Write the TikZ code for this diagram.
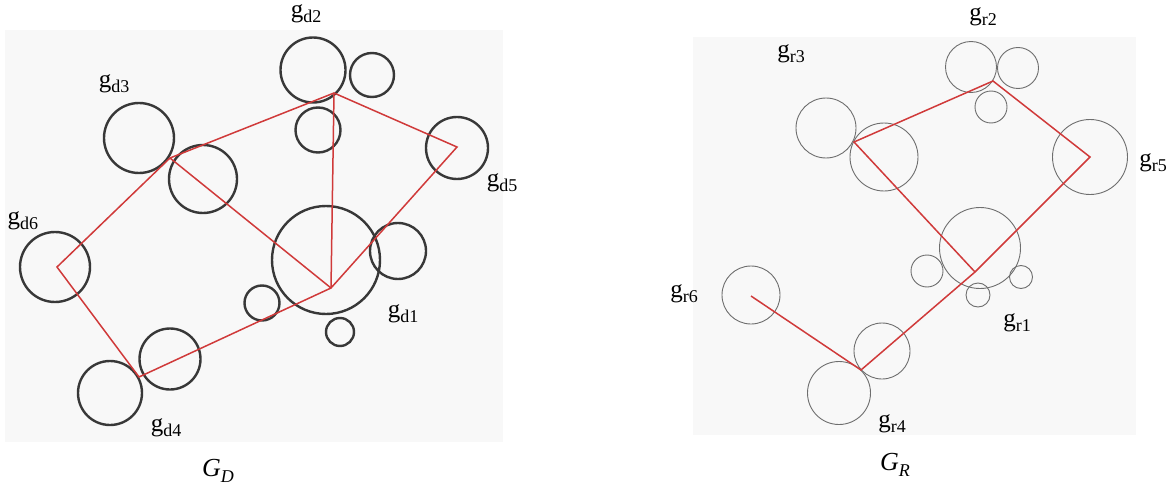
\documentclass[tikz,border=0pt]{standalone}
\usepackage{fontspec}
\setmainfont{Liberation Serif}
\definecolor{bgc}{HTML}{F8F8F8}
\definecolor{dcol}{HTML}{383838}
\definecolor{rcol}{HTML}{6E6E6E}
\definecolor{edgered}{HTML}{D03A3A}
\newcommand{\glab}[1]{g\raisebox{-0.18em}{\fontsize{18}{18}\selectfont #1}}
\newcommand{\Glab}[1]{\textit{G}\raisebox{-0.25em}{\fontsize{18}{18}\selectfont\textit{#1}}}
\begin{document}
\begin{tikzpicture}[x=1pt,y=-1pt,
  dcirc/.style={circle,draw=dcol,line width=2.4pt,inner sep=0pt},
  rcirc/.style={circle,draw=rcol,line width=0.9pt,inner sep=0pt},
  rline/.style={draw=edgered,line width=1.5pt,line join=miter},
  lab/.style={font=\fontsize{25}{25}\selectfont,inner sep=0pt},
  captxt/.style={font=\fontsize{26}{26}\selectfont,inner sep=0pt}]
\useasboundingbox (0,0) rectangle (1168,487);
\fill[white] (0,0) rectangle (1168,487);
\fill[bgc] (5,30) rectangle (503,442);
\fill[bgc] (693,37) rectangle (1136,435);
% ---- left graph G_D
\node[dcirc,minimum size=65pt] (d2a) at (313,70) {};
\node[dcirc,minimum size=44pt] (d2b) at (372,75) {};
\node[dcirc,minimum size=45pt] (d2c) at (318,130) {};
\node[dcirc,minimum size=70pt] (d3a) at (139,138) {};
\node[dcirc,minimum size=68pt] (d3b) at (203,179) {};
\node[dcirc,minimum size=62pt] (d5a) at (457,148) {};
\node[dcirc,minimum size=70pt] (d6a) at (55,267) {};
\node[dcirc,minimum size=108pt] (d1a) at (326,260) {};
\node[dcirc,minimum size=56pt] (d1b) at (398,251) {};
\node[dcirc,minimum size=35pt] (d1c) at (262,303) {};
\node[dcirc,minimum size=28pt] (d1d) at (340,332) {};
\node[dcirc,minimum size=61pt] (d4a) at (170,359) {};
\node[dcirc,minimum size=64pt] (d4b) at (110,393) {};
\coordinate (P1) at (331,288);
\coordinate (P2) at (334,93);
\coordinate (P3) at (170,158);
\coordinate (P4) at (139,377);
\coordinate (P5) at (457,147);
\coordinate (P6) at (57,267);
\draw[rline] (P6) -- (P3) -- (P2) -- (P5) -- (P1) -- (P4) -- cycle;
\draw[rline] (P3) -- (P1);
\draw[rline] (P2) -- (P1);
\node[lab] (ld2) at (306,14) {\glab{d2}};
\node[lab] (ld3) at (114,84) {\glab{d3}};
\node[lab] (ld5) at (502,183) {\glab{d5}};
\node[lab] (ld6) at (23,221) {\glab{d6}};
\node[lab] (ld1) at (403,314) {\glab{d1}};
\node[lab] (ld4) at (166,428) {\glab{d4}};
\node[captxt] (GD) at (218,471) {\Glab{D}};
% ---- right graph G_R
\node[rcirc,minimum size=51pt] (r2a) at (971,67) {};
\node[rcirc,minimum size=41pt] (r2b) at (1018,68) {};
\node[rcirc,minimum size=32pt] (r2c) at (991,107) {};
\node[rcirc,minimum size=60pt] (r3a) at (826,128) {};
\node[rcirc,minimum size=68pt] (r3b) at (884,157) {};
\node[rcirc,minimum size=75pt] (r5a) at (1090,157) {};
\node[rcirc,minimum size=81pt] (r1a) at (980,248) {};
\node[rcirc,minimum size=32pt] (r1b) at (927,271) {};
\node[rcirc,minimum size=24pt] (r1c) at (978,295) {};
\node[rcirc,minimum size=23pt] (r1d) at (1021,277) {};
\node[rcirc,minimum size=58pt] (r6a) at (751,295) {};
\node[rcirc,minimum size=56pt] (r4a) at (882,351) {};
\node[rcirc,minimum size=63pt] (r4b) at (839,393) {};
\coordinate (Q1) at (975,272);
\coordinate (Q2) at (993,81);
\coordinate (Q3) at (854,142);
\coordinate (Q4) at (861,370);
\coordinate (Q5) at (1090,157);
\coordinate (Q6) at (751,296);
\draw[rline] (Q6) -- (Q4) -- (Q1) -- (Q5) -- (Q2) -- (Q3) -- (Q1);
\node[lab] (lr2) at (983,17) {\glab{r2}};
\node[lab] (lr3) at (791,54) {\glab{r3}};
\node[lab] (lr5) at (1153,163) {\glab{r5}};
\node[lab] (lr6) at (684,294) {\glab{r6}};
\node[lab] (lr1) at (1017,323) {\glab{r1}};
\node[lab] (lr4) at (892,424) {\glab{r4}};
\node[captxt] (GR) at (895,465) {\Glab{R}};
\end{tikzpicture}
\end{document}
